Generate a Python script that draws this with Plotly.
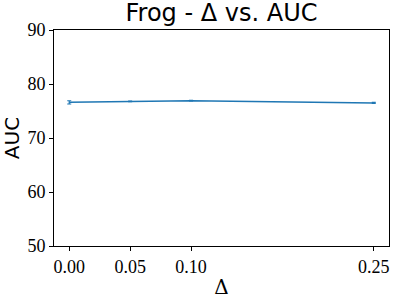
import plotly.graph_objects as go

deltas = [0.0, 0.05, 0.10, 0.25]
auc = [76.6, 76.8, 76.9, 76.5]
auc_err = [0.3, 0.05, 0.05, 0.1]
x_ticks = [0.0, 0.05, 0.10, 0.25]
x_tick_labels = ["0.00", "0.05", "0.10", "0.25"]
y_ticks = [50, 60, 70, 80, 90]

fig = go.Figure()
fig.add_trace(go.Scatter(
    x=deltas, y=auc, mode="lines",
    line=dict(color="#1f77b4", width=1.5),
    error_y=dict(type="data", array=auc_err, visible=True, color="#1f77b4", thickness=1.2, width=2),
))

fig.update_layout(
    width=397, height=300,
    margin=dict(l=54, r=8, t=30, b=54),
    paper_bgcolor="white", plot_bgcolor="white",
    showlegend=False,
    title=dict(text="Frog - Δ vs. AUC", x=0.5, xref="paper", xanchor="center", y=0.985, yanchor="top",
               font=dict(family="DejaVu Sans", size=24, color="black")),
    xaxis=dict(range=[-0.0125, 0.2625], tickvals=x_ticks, ticktext=x_tick_labels, automargin=False,
               ticks="outside", ticklen=4, tickcolor="black", showgrid=False, zeroline=False,
               showline=True, linecolor="black", linewidth=1, mirror=True,
               tickfont=dict(family="Liberation Serif", size=18, color="black"),
               title=dict(text="Δ", font=dict(family="DejaVu Serif", size=20, color="black"), standoff=4)),
    yaxis=dict(range=[50, 90], tickvals=y_ticks, automargin=False,
               ticks="outside", ticklen=4, tickcolor="black", showgrid=False, zeroline=False,
               showline=True, linecolor="black", linewidth=1, mirror=True,
               tickfont=dict(family="Liberation Serif", size=18, color="black"),
               title=dict(text="AUC", font=dict(family="DejaVu Sans", size=20, color="black"), standoff=4)),
)

fig.write_html("out.html", config={"displayModeBar": False},
               post_script="document.body.style.margin='0';document.body.style.padding='0';")
